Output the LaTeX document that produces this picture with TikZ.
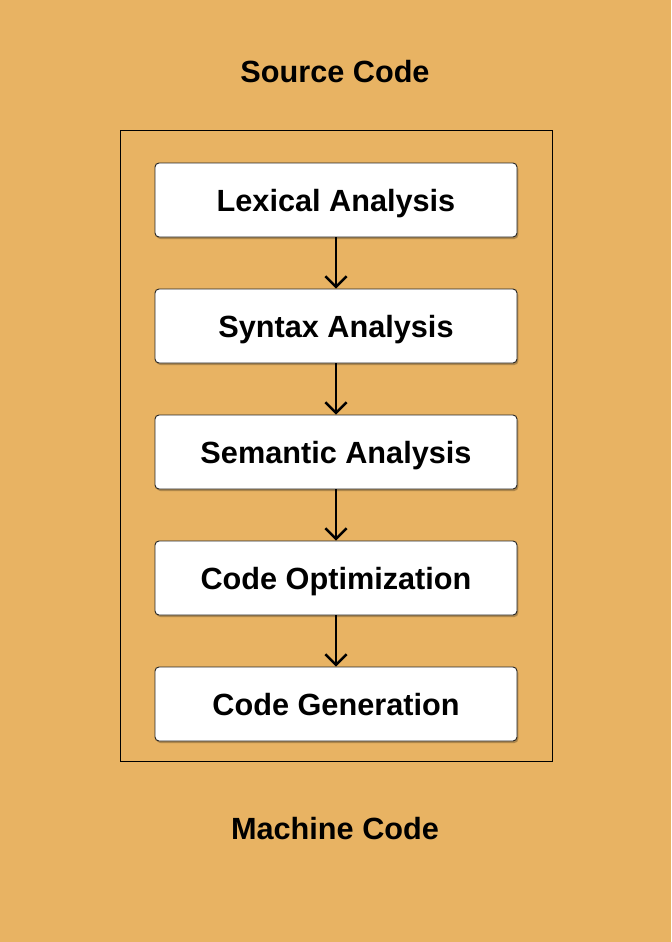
\documentclass[tikz,border=0pt]{standalone}
\usepackage{fontspec}
\setmainfont{Liberation Sans}
\usetikzlibrary{arrows.meta, shadows, positioning}
\definecolor{bgorange}{RGB}{232,179,99}
\tikzset{
  phase/.style={draw=black!85, line width=0.7pt, fill=white, rounded corners=3pt,
    minimum width=271.5pt, minimum height=55.5pt, inner sep=0pt,
    text height=16.5pt, text depth=0pt,
    drop shadow={shadow xshift=1pt, shadow yshift=-1.5pt, opacity=0.25, fill=black},
    font=\bfseries\fontsize{23}{27}\selectfont},
  label/.style={text height=16.5pt, text depth=0pt,
    font=\bfseries\fontsize{23}{27}\selectfont},
  flow/.style={line width=1.8pt, -{Straight Barb[length=8pt, width=16pt, line width=1.8pt]}}
}
\begin{document}
\begin{tikzpicture}[x=0.75pt, y=-0.75pt]
    \fill[bgorange] (0,0) rectangle (671,942);
    \useasboundingbox (0,0) rectangle (671,942);
    % outer frame
    \draw[line width=0.75pt] (120,130) rectangle (552,761);
    % titles
    \node[label] (src) at (335,72) {Source Code};
    \node[label] (mach) at (335,828) {Machine Code};
    % phases
    \node[phase] (lex) at (336,200) {Lexical Analysis};
    \node[phase] (syn) at (336,326) {Syntax Analysis};
    \node[phase] (sem) at (336,452) {Semantic Analysis};
    \node[phase] (opt) at (336,578) {Code Optimization};
    \node[phase] (gen) at (336,704) {Code Generation};
    % arrows between phases
    \draw[flow] (lex) -- (syn);
    \draw[flow] (syn) -- (sem);
    \draw[flow] (sem) -- (opt);
    \draw[flow] (opt) -- (gen);
\end{tikzpicture}
\end{document}
